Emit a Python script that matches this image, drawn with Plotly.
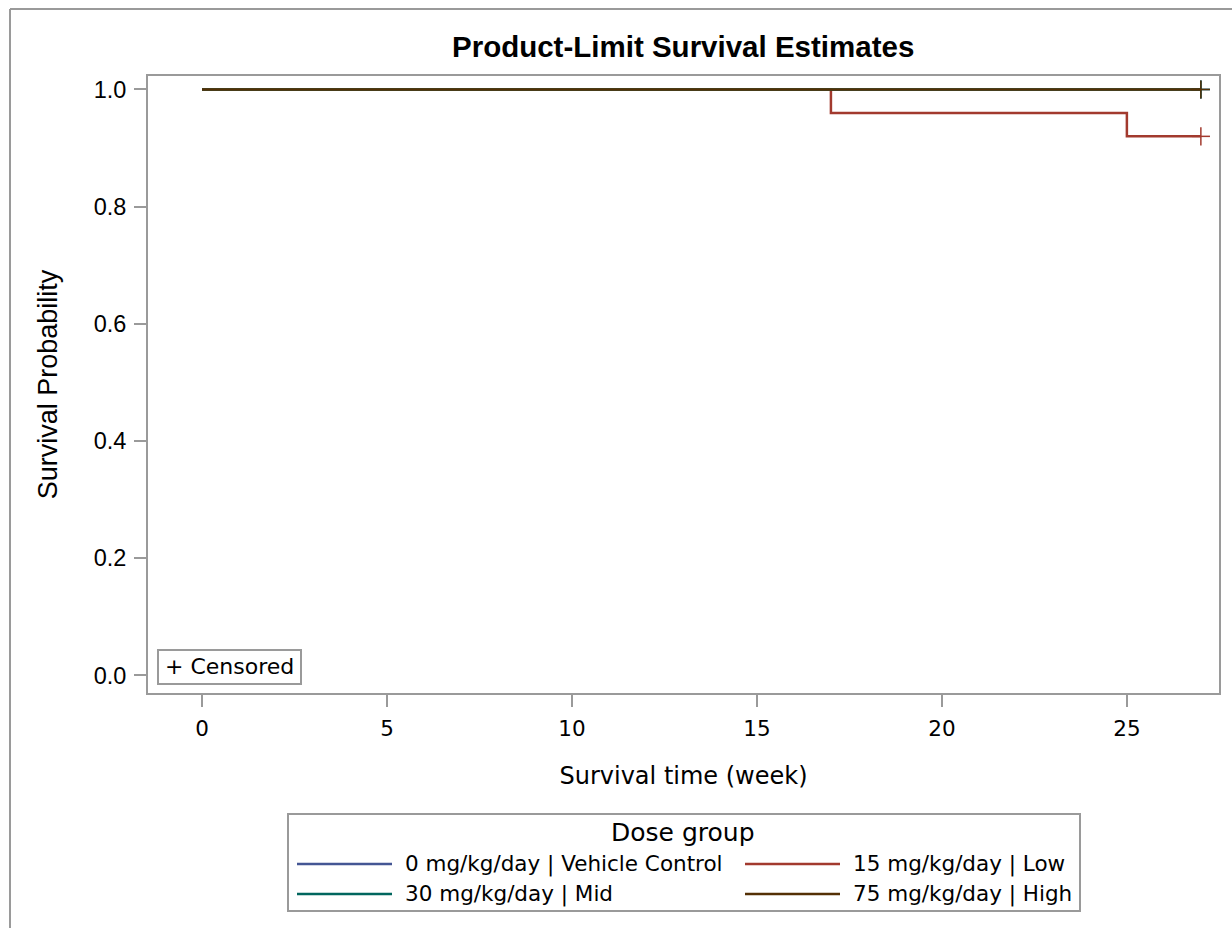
import plotly.graph_objects as go

# Kaplan-Meier step data per dose group (time in weeks, survival probability)
groups = ["0 mg/kg/day | Vehicle Control", "15 mg/kg/day | Low",
          "30 mg/kg/day | Mid", "75 mg/kg/day | High"]
colors = ["#445694", "#A23A2E", "#01665E", "#543005"]

times = {
    groups[0]: [0, 27],
    groups[1]: [0, 17, 25, 27],
    groups[2]: [0, 27],
    groups[3]: [0, 27],
}
surv = {
    groups[0]: [1.0, 1.0],
    groups[1]: [1.0, 0.96, 0.92, 0.92],
    groups[2]: [1.0, 1.0],
    groups[3]: [1.0, 1.0],
}
censor_time = {groups[0]: [27], groups[1]: [27], groups[2]: [27], groups[3]: [27]}
censor_surv = {groups[0]: [1.0], groups[1]: [0.92], groups[2]: [1.0], groups[3]: [1.0]}

x_ticks = [0, 5, 10, 15, 20, 25]
y_ticks = [0.0, 0.2, 0.4, 0.6, 0.8, 1.0]
y_tick_text = ["0.0", "0.2", "0.4", "0.6", "0.8", "1.0"]

W, H = 1232, 928
L, R, T, B = 148, 1219, 76, 693
GRAY = "#9A9A9A"
SANS = "Liberation Sans, Arial, sans-serif"
TAHO = "DejaVu Sans, Verdana, sans-serif"


def px(x):
    return (x - L) / (R - L)


def py(y):
    return (B - y) / (B - T)


fig = go.Figure()
for g, c in zip(groups, colors):
    fig.add_trace(go.Scatter(
        x=times[g], y=surv[g], mode="lines", line=dict(color=c, width=2.5, shape="hv"),
        name=g, showlegend=False, hoverinfo="skip"))
    fig.add_trace(go.Scatter(
        x=censor_time[g], y=censor_surv[g], mode="markers",
        marker=dict(symbol="line-ns", size=13, line=dict(color=c, width=1.5)),
        showlegend=False, hoverinfo="skip"))
    fig.add_trace(go.Scatter(
        x=censor_time[g], y=censor_surv[g], mode="markers",
        marker=dict(symbol="line-ew", size=13, line=dict(color=c, width=1.5)),
        showlegend=False, hoverinfo="skip"))

shapes = []
annotations = []

# outer frame (left and top edges)
shapes.append(dict(type="line", xref="paper", yref="paper", x0=px(10), x1=px(10),
                   y0=py(9), y1=py(940), line=dict(color=GRAY, width=2)))
shapes.append(dict(type="line", xref="paper", yref="paper", x0=px(10), x1=px(1240),
                   y0=py(9), y1=py(9), line=dict(color=GRAY, width=2)))

# title
annotations.append(dict(text="<b>Product-Limit Survival Estimates</b>", xref="paper", yref="paper",
                        x=px(683), y=py(47), showarrow=False, xanchor="center", yanchor="middle",
                        font=dict(family=SANS, size=29.5, color="black")))

# censored key box
shapes.append(dict(type="rect", xref="paper", yref="paper", x0=px(158), x1=px(301),
                   y0=py(650), y1=py(684), line=dict(color=GRAY, width=2), fillcolor="white"))
annotations.append(dict(text="+ Censored", xref="paper", yref="paper", x=px(229.5), y=py(666),
                        showarrow=False, xanchor="center", yanchor="middle",
                        font=dict(family=TAHO, size=22, color="black")))

# dose group legend
shapes.append(dict(type="rect", xref="paper", yref="paper", x0=px(288), x1=px(1080),
                   y0=py(814), y1=py(911), line=dict(color=GRAY, width=2), fillcolor="white"))
annotations.append(dict(text="Dose group", xref="paper", yref="paper", x=px(683), y=py(833),
                        showarrow=False, xanchor="center", yanchor="middle",
                        font=dict(family=TAHO, size=25, color="black")))
leg_pos = [(297, 864), (745, 864), (297, 894), (745, 894)]
for g, c, (lx, ly) in zip(groups, colors, leg_pos):
    shapes.append(dict(type="line", xref="paper", yref="paper", x0=px(lx), x1=px(lx + 95),
                       y0=py(ly), y1=py(ly), line=dict(color=c, width=2.5)))
    annotations.append(dict(text=g, xref="paper", yref="paper", x=px(lx + 106), y=py(ly),
                            showarrow=False, xanchor="left", yanchor="middle",
                            font=dict(family=TAHO, size=21.5, color="black")))

fig.update_layout(
    width=W, height=H,
    margin=dict(l=L, r=W - R, t=T, b=H - B),
    paper_bgcolor="white", plot_bgcolor="white",
    shapes=shapes, annotations=annotations,
    xaxis=dict(range=[-1.46, 27.49], tickvals=x_ticks, ticks="outside", ticklen=12,
               tickwidth=2, tickcolor=GRAY, showgrid=False, zeroline=False,
               showline=True, linecolor=GRAY, linewidth=2, mirror=True,
               ticklabelstandoff=3,
               tickfont=dict(family=TAHO, size=21.5, color="black"),
               title=dict(text="Survival time (week)", standoff=27,
                          font=dict(family=TAHO, size=24, color="black"))),
    yaxis=dict(range=[-0.030, 1.023], tickvals=y_ticks, ticktext=y_tick_text, ticks="outside",
               ticklen=12, tickwidth=2, tickcolor=GRAY, showgrid=False, zeroline=False,
               showline=True, linecolor=GRAY, linewidth=2, mirror=True,
               ticklabelstandoff=3,
               tickfont=dict(family=SANS, size=23.5, color="black"),
               title=dict(text="Survival Probability", standoff=28,
                          font=dict(family=SANS, size=27, color="black"))),
)

fig.write_html("out.html")
